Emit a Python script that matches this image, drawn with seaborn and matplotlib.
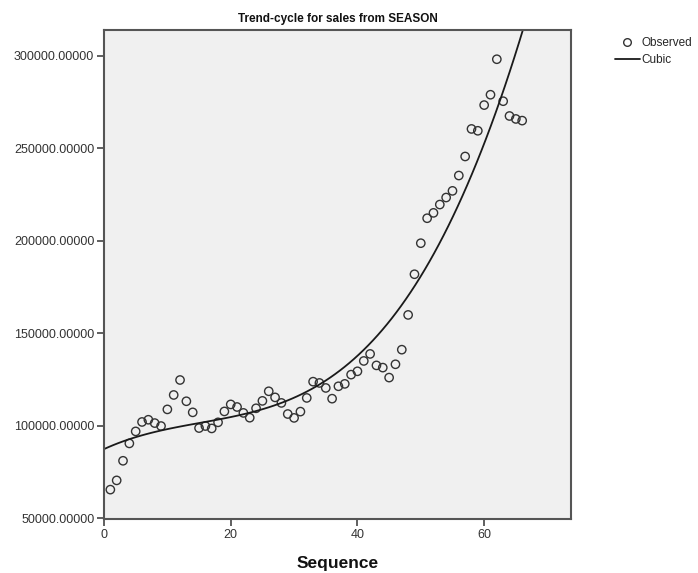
"""
Trend-cycle for sales from SEASON - observed vs cubic fit
"""
import numpy as np
import pandas as pd
import matplotlib
matplotlib.use('Agg')
import matplotlib.pyplot as plt
import seaborn as sns
from matplotlib.lines import Line2D

# Données
sequence = list(range(1, 67))
sales = [
    65400, 70400, 81000, 90400, 96900, 102000, 103200, 101400, 99800, 108800,
    116600, 124700, 113200, 107200, 98700, 99800, 98500, 101800, 107700, 111500,
    110100, 106900, 104300, 109400, 113400, 118600, 115300, 112300, 106300, 104200,
    107600, 115000, 123800, 123100, 120400, 114600, 121300, 122600, 127600, 129400,
    135000, 138800, 132600, 131400, 126000, 133200, 141100, 159900, 181900, 198700,
    212200, 215100, 219600, 223400, 227000, 235300, 245600, 260500, 259500, 273400,
    279000, 298200, 275500, 267500, 265900, 265000,
]
x_ticks = [0, 20, 40, 60]
y_ticks = [50000, 100000, 150000, 200000, 250000, 300000]

df = pd.DataFrame({'Sequence': sequence, 'sales': sales})

sns.set_style('white')
plt.rcParams['font.family'] = ['Liberation Sans', 'DejaVu Sans']

fig = plt.figure(figsize=(6.98, 5.73), dpi=100)
ax = fig.add_axes([0.149, 0.0942, 0.669, 0.8534])
ax.set_facecolor('#f0f0f0')
ax.set_xlim(0, 73.7)
ax.set_ylim(49500, 314000)

# Courbe cubique (régression d'ordre 3)
sns.regplot(data=df, x='Sequence', y='sales', order=3, ci=None, scatter=False,
            truncate=False, color='#1a1a1a', line_kws={'linewidth': 1.3}, ax=ax)

# Points observés
sns.scatterplot(data=df, x='Sequence', y='sales', marker='o', s=36,
                facecolor='none', edgecolor='#333333', linewidth=1.0, ax=ax)

ax.set_xlim(0, 73.7)
ax.set_ylim(49500, 314000)
ax.set_xticks(x_ticks)
ax.set_yticks(y_ticks)
ax.set_yticklabels([f"{v:.5f}" for v in y_ticks])
ax.tick_params(direction='out', length=5, width=1.2, color='#444444',
               labelsize=9, labelcolor='#333333', bottom=True, left=True, pad=2)
for sp in ax.spines.values():
    sp.set_color('#555555')
    sp.set_linewidth(1.5)

ax.set_xlabel('Sequence', fontsize=12.5, fontweight='bold', labelpad=11, color='#111111')
ax.set_ylabel('')
ax.set_title('Trend-cycle for sales from SEASON', fontsize=8.5, fontweight='bold', pad=6,
             color='#111111')

handles = [
    Line2D([], [], marker='o', linestyle='none', markerfacecolor='none',
           markeredgecolor='#333333', markersize=5.5),
    Line2D([], [], color='#1a1a1a', linewidth=1.3),
]
fig.legend(handles, ['Observed', 'Cubic'], loc='upper left',
           bbox_to_anchor=(0.881, 0.936), frameon=False, fontsize=8.5,
           handlelength=2.1, handletextpad=0.15, labelspacing=0.45, borderaxespad=0,
           borderpad=0)

plt.savefig('out.png', dpi=100)
plt.close()
